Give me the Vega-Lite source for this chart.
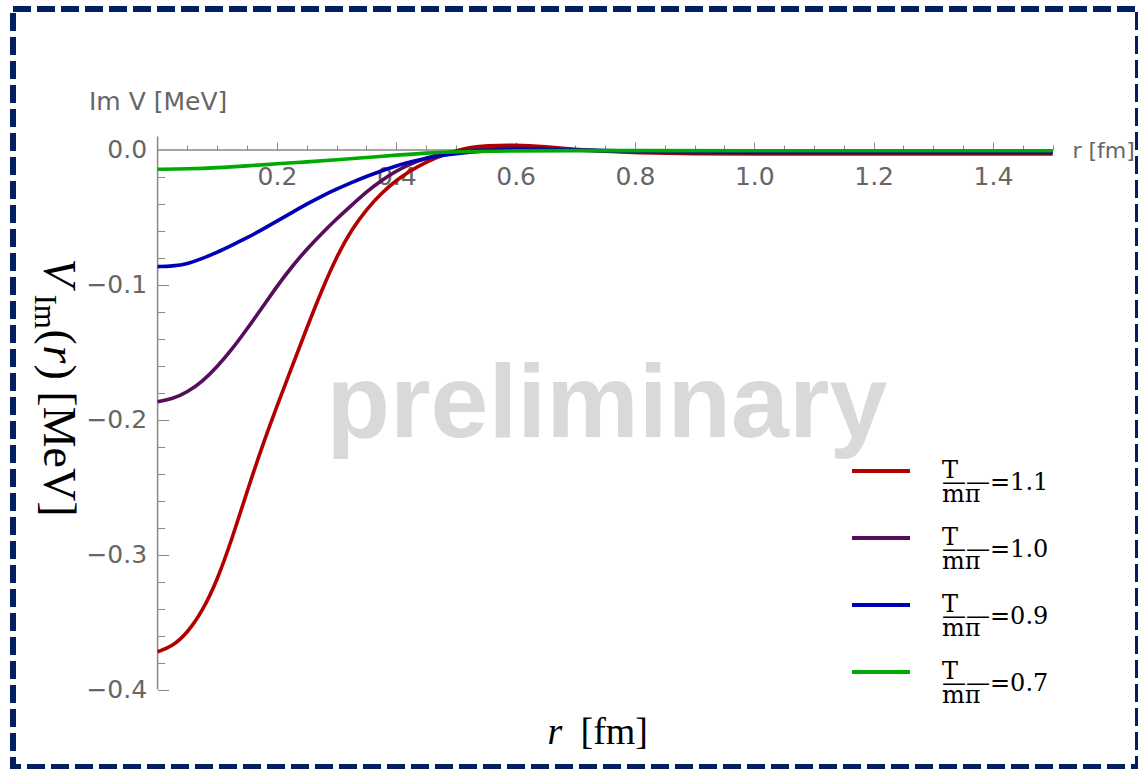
{
  "$schema": "https://vega.github.io/schema/vega-lite/v6.json",
  "width": 1125,
  "height": 758,
  "autosize": {"type": "none"},
  "padding": {"left": 13, "top": 9, "right": 0, "bottom": 2},
  "background": "white",
  "config": {
    "view": {"stroke": "#002060", "strokeWidth": 6, "strokeDash": [18, 6]},
    "axis": {"grid": false, "domain": false, "labelFlush": false, "labelOverlap": false, "tickColor": "#888888", "tickWidth": 1, "titleFontWeight": "normal", "titlePadding": 0},
    "legend": {"orient": "none", "legendX": 837, "legendY": 431, "title": null, "symbolType": "stroke", "symbolSize": 3364, "symbolStrokeWidth": 4, "labelOffset": 30, "labelFont": "DejaVu Serif", "labelFontSize": 24, "labelColor": "black", "labelLimit": 300, "rowPadding": 0, "padding": 0}
  },
  "datasets": {
    "curves": [
      {"r": 0, "V": -0.372, "T": "1.1"}, {"r": 0.025, "V": -0.368, "T": "1.1"}, {"r": 0.05, "V": -0.358, "T": "1.1"}, {"r": 0.075, "V": -0.342, "T": "1.1"}, {"r": 0.1, "V": -0.319, "T": "1.1"}, {"r": 0.125, "V": -0.288, "T": "1.1"}, {"r": 0.15, "V": -0.253, "T": "1.1"}, {"r": 0.175, "V": -0.22, "T": "1.1"}, {"r": 0.2, "V": -0.19, "T": "1.1"}, {"r": 0.225, "V": -0.161, "T": "1.1"}, {"r": 0.25, "V": -0.132, "T": "1.1"}, {"r": 0.275, "V": -0.104, "T": "1.1"}, {"r": 0.3, "V": -0.079, "T": "1.1"}, {"r": 0.325, "V": -0.059, "T": "1.1"}, {"r": 0.35, "V": -0.044, "T": "1.1"}, {"r": 0.375, "V": -0.032, "T": "1.1"}, {"r": 0.4, "V": -0.0225, "T": "1.1"}, {"r": 0.425, "V": -0.015, "T": "1.1"}, {"r": 0.45, "V": -0.009, "T": "1.1"}, {"r": 0.475, "V": -0.004, "T": "1.1"}, {"r": 0.5, "V": -0.0005, "T": "1.1"}, {"r": 0.525, "V": 0.002, "T": "1.1"}, {"r": 0.55, "V": 0.0033, "T": "1.1"}, {"r": 0.6, "V": 0.0038, "T": "1.1"}, {"r": 0.65, "V": 0.0025, "T": "1.1"}, {"r": 0.7, "V": 0.0005, "T": "1.1"}, {"r": 0.75, "V": -0.001, "T": "1.1"}, {"r": 0.8, "V": -0.002, "T": "1.1"}, {"r": 0.9, "V": -0.0028, "T": "1.1"}, {"r": 1.0, "V": -0.003, "T": "1.1"}, {"r": 1.2, "V": -0.003, "T": "1.1"}, {"r": 1.5, "V": -0.003, "T": "1.1"},
      {"r": 0, "V": -0.1866, "T": "1.0"}, {"r": 0.025, "V": -0.1846, "T": "1.0"}, {"r": 0.05, "V": -0.1796, "T": "1.0"}, {"r": 0.075, "V": -0.1716, "T": "1.0"}, {"r": 0.1, "V": -0.1606, "T": "1.0"}, {"r": 0.125, "V": -0.1476, "T": "1.0"}, {"r": 0.15, "V": -0.1326, "T": "1.0"}, {"r": 0.175, "V": -0.1171, "T": "1.0"}, {"r": 0.2, "V": -0.101, "T": "1.0"}, {"r": 0.225, "V": -0.0865, "T": "1.0"}, {"r": 0.25, "V": -0.0735, "T": "1.0"}, {"r": 0.275, "V": -0.062, "T": "1.0"}, {"r": 0.3, "V": -0.051, "T": "1.0"}, {"r": 0.325, "V": -0.041, "T": "1.0"}, {"r": 0.35, "V": -0.031, "T": "1.0"}, {"r": 0.375, "V": -0.0225, "T": "1.0"}, {"r": 0.4, "V": -0.0155, "T": "1.0"}, {"r": 0.425, "V": -0.01, "T": "1.0"}, {"r": 0.45, "V": -0.006, "T": "1.0"}, {"r": 0.475, "V": -0.003, "T": "1.0"}, {"r": 0.5, "V": -0.001, "T": "1.0"}, {"r": 0.55, "V": 0.001, "T": "1.0"}, {"r": 0.6, "V": 0.0015, "T": "1.0"}, {"r": 0.65, "V": 0.001, "T": "1.0"}, {"r": 0.7, "V": 0, "T": "1.0"}, {"r": 0.8, "V": -0.0015, "T": "1.0"}, {"r": 0.9, "V": -0.002, "T": "1.0"}, {"r": 1.0, "V": -0.002, "T": "1.0"}, {"r": 1.2, "V": -0.002, "T": "1.0"}, {"r": 1.5, "V": -0.002, "T": "1.0"},
      {"r": 0, "V": -0.0865, "T": "0.9"}, {"r": 0.025, "V": -0.0861, "T": "0.9"}, {"r": 0.05, "V": -0.0845, "T": "0.9"}, {"r": 0.075, "V": -0.0805, "T": "0.9"}, {"r": 0.1, "V": -0.0758, "T": "0.9"}, {"r": 0.125, "V": -0.0705, "T": "0.9"}, {"r": 0.15, "V": -0.0651, "T": "0.9"}, {"r": 0.175, "V": -0.0591, "T": "0.9"}, {"r": 0.2, "V": -0.0528, "T": "0.9"}, {"r": 0.225, "V": -0.0464, "T": "0.9"}, {"r": 0.25, "V": -0.0401, "T": "0.9"}, {"r": 0.275, "V": -0.0342, "T": "0.9"}, {"r": 0.3, "V": -0.029, "T": "0.9"}, {"r": 0.325, "V": -0.0242, "T": "0.9"}, {"r": 0.35, "V": -0.0196, "T": "0.9"}, {"r": 0.375, "V": -0.0155, "T": "0.9"}, {"r": 0.4, "V": -0.0117, "T": "0.9"}, {"r": 0.425, "V": -0.0087, "T": "0.9"}, {"r": 0.45, "V": -0.0062, "T": "0.9"}, {"r": 0.475, "V": -0.0042, "T": "0.9"}, {"r": 0.5, "V": -0.0026, "T": "0.9"}, {"r": 0.55, "V": -0.0005, "T": "0.9"}, {"r": 0.6, "V": 0.0005, "T": "0.9"}, {"r": 0.65, "V": 0.0005, "T": "0.9"}, {"r": 0.7, "V": 0, "T": "0.9"}, {"r": 0.8, "V": -0.001, "T": "0.9"}, {"r": 1.0, "V": -0.0015, "T": "0.9"}, {"r": 1.2, "V": -0.0015, "T": "0.9"}, {"r": 1.5, "V": -0.0015, "T": "0.9"},
      {"r": 0, "V": -0.0143, "T": "0.7"}, {"r": 0.05, "V": -0.014, "T": "0.7"}, {"r": 0.1, "V": -0.0132, "T": "0.7"}, {"r": 0.15, "V": -0.0118, "T": "0.7"}, {"r": 0.2, "V": -0.0102, "T": "0.7"}, {"r": 0.25, "V": -0.0088, "T": "0.7"}, {"r": 0.3, "V": -0.0073, "T": "0.7"}, {"r": 0.35, "V": -0.0056, "T": "0.7"}, {"r": 0.4, "V": -0.0038, "T": "0.7"}, {"r": 0.45, "V": -0.0022, "T": "0.7"}, {"r": 0.5, "V": -0.0012, "T": "0.7"}, {"r": 0.6, "V": -0.0006, "T": "0.7"}, {"r": 0.7, "V": -0.0004, "T": "0.7"}, {"r": 0.8, "V": -0.0005, "T": "0.7"}, {"r": 1.0, "V": -0.0006, "T": "0.7"}, {"r": 1.5, "V": -0.0006, "T": "0.7"}
    ]
  },
  "resolve": {"axis": {"x": "independent", "y": "independent"}},
  "layer": [
    {
      "data": {"values": [{}]},
      "mark": {"type": "text", "text": "preliminary", "font": "Liberation Sans", "fontWeight": "bold", "fontSize": 104, "color": "#d9d9d9", "align": "center", "baseline": "alphabetic"},
      "encoding": {
        "x": {"datum": 0.753, "type": "quantitative", "scale": {"domain": [-0.24233, 1.64304], "nice": false, "zero": false},
          "axis": {"orient": "bottom", "offset": -617, "values": [0.05, 0.1, 0.15, 0.25, 0.3, 0.35, 0.45, 0.5, 0.55, 0.65, 0.7, 0.75, 0.85, 0.9, 0.95, 1.05, 1.1, 1.15, 1.25, 1.3, 1.35, 1.45, 1.5], "labels": false, "tickSize": -5, "title": "r [fm]", "titleX": 1059, "titleY": 0, "titleAlign": "left", "titleBaseline": "middle", "titleFont": "DejaVu Sans", "titleFontSize": 22, "titleColor": "#666666"}},
        "y": {"datum": -0.213, "type": "quantitative", "scale": {"domain": [-0.45746, 0.10454], "nice": false, "zero": false},
          "axis": {"orient": "left", "offset": -144.6, "values": [-0.02, -0.04, -0.06, -0.08, -0.12, -0.14, -0.16, -0.18, -0.22, -0.24, -0.26, -0.28, -0.32, -0.34, -0.36, -0.38], "labels": false, "tickSize": -7, "title": "Im V [MeV]", "titleAngle": 0, "titleX": 0, "titleY": 100, "titleAlign": "center", "titleBaseline": "alphabetic", "titleFont": "DejaVu Sans", "titleFontSize": 25, "titleColor": "#666666"}}
      }
    },
    {
      "data": {"values": [{}]},
      "mark": {"type": "rule", "color": "#888888", "strokeWidth": 1.5},
      "encoding": {
        "x": {"datum": 0, "type": "quantitative", "scale": {"domain": [-0.24233, 1.64304], "nice": false, "zero": false},
          "axis": {"orient": "bottom", "offset": -617, "values": [0.2, 0.4, 0.6, 0.8, 1.0, 1.2, 1.4], "labels": false, "tickSize": -8, "title": "r", "titleX": 534, "titleY": 593, "titleAlign": "left", "titleBaseline": "alphabetic", "titleFont": "Liberation Serif", "titleFontStyle": "italic", "titleFontSize": 38, "titleColor": "black"}},
        "x2": {"datum": 1.5},
        "y": {"datum": 0, "type": "quantitative", "scale": {"domain": [-0.45746, 0.10454], "nice": false, "zero": false},
          "axis": {"orient": "left", "offset": -144.6, "values": [-0.1, -0.2, -0.3, -0.4], "labels": false, "tickSize": -11, "title": "V", "titleAngle": 90, "titleX": -114, "titleY": 249, "titleAlign": "left", "titleBaseline": "alphabetic", "titleFont": "Liberation Serif", "titleFontStyle": "italic", "titleFontSize": 46, "titleColor": "black"}}
      }
    },
    {
      "data": {"values": [{}]},
      "mark": {"type": "rule", "color": "#888888", "strokeWidth": 1.5},
      "encoding": {
        "x": {"datum": 0, "type": "quantitative", "scale": {"domain": [-0.24233, 1.64304], "nice": false, "zero": false},
          "axis": {"orient": "bottom", "offset": -617, "values": [], "ticks": false, "labels": false, "title": "[fm]", "titleX": 567, "titleY": 593, "titleAlign": "left", "titleBaseline": "alphabetic", "titleFont": "Liberation Serif", "titleFontSize": 38, "titleColor": "black"}},
        "y": {"datum": -0.4, "type": "quantitative", "scale": {"domain": [-0.45746, 0.10454], "nice": false, "zero": false},
          "axis": {"orient": "left", "offset": -144.6, "values": [], "ticks": false, "labels": false, "title": "Im", "titleAngle": 90, "titleX": -123, "titleY": 285, "titleAlign": "left", "titleBaseline": "alphabetic", "titleFont": "Liberation Serif", "titleFontSize": 31, "titleColor": "black"}},
        "y2": {"datum": 0.01}
      }
    },
    {
      "data": {"name": "curves"},
      "transform": [{"filter": "datum.T === '1.1'"}],
      "mark": {"type": "line", "strokeWidth": 3.6, "interpolate": "basis"},
      "encoding": {
        "x": {"field": "r", "type": "quantitative", "scale": {"domain": [-0.24233, 1.64304], "nice": false, "zero": false},
          "axis": {"orient": "bottom", "offset": -617, "values": [0.2, 0.4, 0.6, 0.8, 1.0, 1.2, 1.4], "format": ".1f", "ticks": false, "tickSize": 0, "labelPadding": 14, "labelFont": "DejaVu Sans", "labelFontSize": 25, "labelColor": "#666666", "title": null}},
        "y": {"field": "V", "type": "quantitative", "scale": {"domain": [-0.45746, 0.10454], "nice": false, "zero": false},
          "axis": {"orient": "left", "offset": -144.6, "values": [0, -0.1, -0.2, -0.3, -0.4], "format": ".1f", "ticks": false, "tickSize": 0, "labelPadding": 11, "labelFont": "DejaVu Sans", "labelFontSize": 25, "labelColor": "#666666", "title": "(", "titleAngle": 90, "titleX": -114, "titleY": 320, "titleAlign": "left", "titleBaseline": "alphabetic", "titleFont": "Liberation Serif", "titleFontSize": 46, "titleColor": "black"}},
        "color": {"field": "T", "type": "nominal", "scale": {"domain": ["1.1", "1.0", "0.9", "0.7"], "range": ["#b20000", "#560d5c", "#0000b5", "#00aa00"]},
          "legend": {"labelExpr": "['\u00a0\u00a0T', '\u2014\u2014=' + datum.label, '\u2009m\u03c0']", "encode": {"labels": {"update": {"lineHeight": {"value": 12}}}}}}
      }
    },
    {
      "data": {"name": "curves"},
      "transform": [{"filter": "datum.T === '1.0'"}],
      "mark": {"type": "line", "strokeWidth": 3.6, "interpolate": "basis"},
      "encoding": {
        "x": {"field": "r", "type": "quantitative", "scale": {"domain": [-0.24233, 1.64304], "nice": false, "zero": false}, "axis": null},
        "y": {"field": "V", "type": "quantitative", "scale": {"domain": [-0.45746, 0.10454], "nice": false, "zero": false},
          "axis": {"orient": "left", "offset": -144.6, "values": [], "ticks": false, "labels": false, "title": "r", "titleAngle": 90, "titleX": -114, "titleY": 336, "titleAlign": "left", "titleBaseline": "alphabetic", "titleFont": "Liberation Serif", "titleFontStyle": "italic", "titleFontSize": 46, "titleColor": "black"}},
        "color": {"field": "T", "type": "nominal", "scale": {"domain": ["1.1", "1.0", "0.9", "0.7"], "range": ["#b20000", "#560d5c", "#0000b5", "#00aa00"]},
          "legend": {"labelExpr": "['\u00a0\u00a0T', '\u2014\u2014=' + datum.label, '\u2009m\u03c0']", "encode": {"labels": {"update": {"lineHeight": {"value": 12}}}}}}
      }
    },
    {
      "data": {"name": "curves"},
      "transform": [{"filter": "datum.T === '0.9'"}],
      "mark": {"type": "line", "strokeWidth": 3.6, "interpolate": "basis"},
      "encoding": {
        "x": {"field": "r", "type": "quantitative", "scale": {"domain": [-0.24233, 1.64304], "nice": false, "zero": false}, "axis": null},
        "y": {"field": "V", "type": "quantitative", "scale": {"domain": [-0.45746, 0.10454], "nice": false, "zero": false},
          "axis": {"orient": "left", "offset": -144.6, "values": [], "ticks": false, "labels": false, "title": ") [MeV]", "titleAngle": 90, "titleX": -114, "titleY": 355, "titleAlign": "left", "titleBaseline": "alphabetic", "titleFont": "Liberation Serif", "titleFontSize": 46, "titleColor": "black"}},
        "color": {"field": "T", "type": "nominal", "scale": {"domain": ["1.1", "1.0", "0.9", "0.7"], "range": ["#b20000", "#560d5c", "#0000b5", "#00aa00"]},
          "legend": {"labelExpr": "['\u00a0\u00a0T', '\u2014\u2014=' + datum.label, '\u2009m\u03c0']", "encode": {"labels": {"update": {"lineHeight": {"value": 12}}}}}}
      }
    },
    {
      "data": {"name": "curves"},
      "transform": [{"filter": "datum.T === '0.7'"}],
      "mark": {"type": "line", "strokeWidth": 3.6, "interpolate": "basis"},
      "encoding": {
        "x": {"field": "r", "type": "quantitative", "scale": {"domain": [-0.24233, 1.64304], "nice": false, "zero": false}, "axis": null},
        "y": {"field": "V", "type": "quantitative", "scale": {"domain": [-0.45746, 0.10454], "nice": false, "zero": false}, "axis": null},
        "color": {"field": "T", "type": "nominal", "scale": {"domain": ["1.1", "1.0", "0.9", "0.7"], "range": ["#b20000", "#560d5c", "#0000b5", "#00aa00"]},
          "legend": {"labelExpr": "['\u00a0\u00a0T', '\u2014\u2014=' + datum.label, '\u2009m\u03c0']", "encode": {"labels": {"update": {"lineHeight": {"value": 12}}}}}}
      }
    }
  ]
}
